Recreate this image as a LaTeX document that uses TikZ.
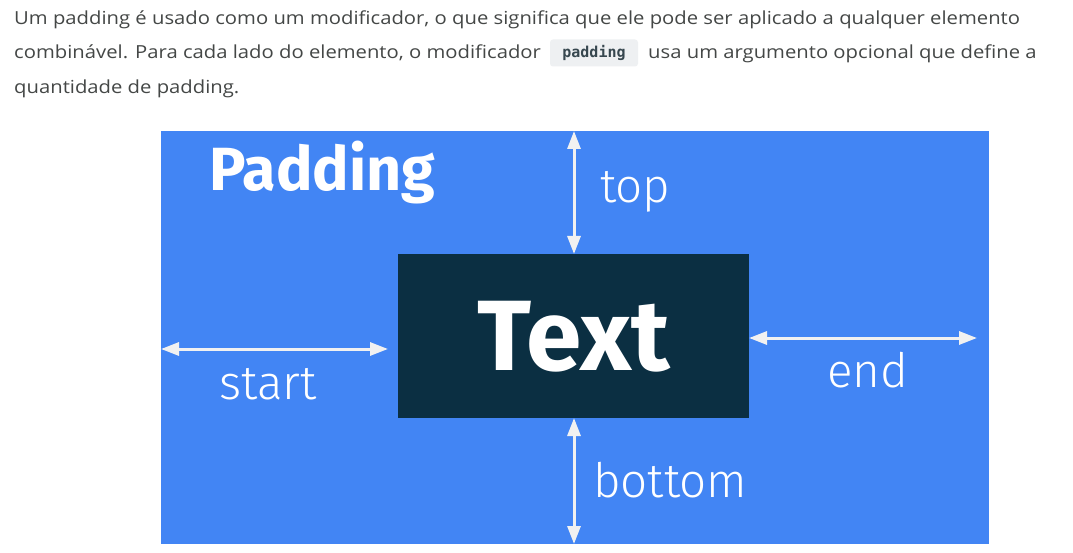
\documentclass[tikz,border=0pt]{standalone}
\usepackage{fontspec}
\setmainfont{Liberation Sans}
\newfontfamily\lightfont{Fira Sans Light}
\newfontfamily\boldfont{Fira Sans}[UprightFont=* Bold]
\newfontfamily\bodyfont{Open Sans}
\newfontfamily\codefont{DejaVu Sans Mono}[UprightFont=* Bold]
\usetikzlibrary{arrows.meta}
\definecolor{bgblue}{HTML}{4285F4}
\definecolor{darkbox}{HTML}{0B2F42}
\definecolor{arrowgray}{HTML}{F1F1F1}
\definecolor{bodygray}{HTML}{444746}
\definecolor{codebg}{HTML}{EEF0F2}
\definecolor{codefg}{HTML}{37474F}
\tikzset{
  dim/.style={draw=arrowgray, line width=3pt, {Triangle[length=18pt,width=13pt]}-{Triangle[length=18pt,width=13pt]}},
  lbl/.style={text=white, font=\lightfont\fontsize{47.5}{47.5}\selectfont, inner sep=0pt, anchor=base west},
  body/.style={text=bodygray, font=\bodyfont\fontsize{18}{20}\selectfont, inner sep=0pt, anchor=base west, xscale=1.125, transform shape},
}
\begin{document}
\begin{tikzpicture}[x=1pt,y=-1pt]
\useasboundingbox (0,0) rectangle (1073,553);
\fill[white] (0,0) rectangle (1073,553);
% paragraph
\node[body] (l1) at (14,25) {Um padding é usado como um modificador, o que significa que ele pode ser aplicado a qualquer elemento};
\node[body] (l2a) at (14,59) {combinável. Para cada lado do elemento, o modificador};
\node[fill=codebg, rounded corners=3pt, minimum width=88pt, minimum height=27pt, inner sep=0pt, text=codefg, font=\codefont\fontsize{15}{15}\selectfont] (code) at (594,53) {padding};
\node[body] (l2b) at (648,59) {usa um argumento opcional que define a};
\node[body] (l3) at (14,94) {quantidade de padding.};
% blue area
\node[fill=bgblue, minimum width=828pt, minimum height=413pt, inner sep=0pt, anchor=north west] (area) at (161,131) {};
\node[fill=darkbox, minimum width=351pt, minimum height=164pt, inner sep=0pt, anchor=north west] (content) at (398,254) {};
\node[text=white, font=\boldfont\fontsize{100}{100}\selectfont, inner sep=0pt] (txt) at (574,337) {Text};
\node[text=white, font=\boldfont\fontsize{61}{61}\selectfont, inner sep=0pt, anchor=base west] (title) at (209,191) {Padding};
% arrows
\coordinate (topA) at (574,131);
\coordinate (topB) at (574,254);
\coordinate (botA) at (574,418);
\coordinate (botB) at (574,544);
\coordinate (stA) at (161,349);
\coordinate (stB) at (388,349);
\coordinate (enA) at (749,338);
\coordinate (enB) at (977,338);
\draw[dim] (topA) -- (topB);
\draw[dim] (botA) -- (botB);
\draw[dim] (stA) -- (stB);
\draw[dim] (enA) -- (enB);
% labels
\node[lbl] (ltop) at (600,203) {top};
\node[lbl] (lstart) at (219,399) {start};
\node[lbl] (lend) at (827,387) {end};
\node[lbl] (lbot) at (593,497) {bottom};
\end{tikzpicture}
\end{document}
